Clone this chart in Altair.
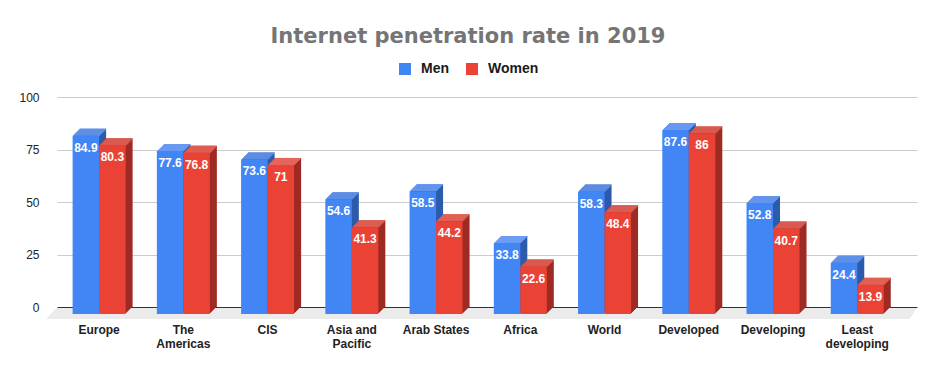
import altair as alt
import pandas as pd

# ---- data ----
regions = ["Europe", "The Americas", "CIS", "Asia and Pacific", "Arab States",
           "Africa", "World", "Developed", "Developing", "Least developing"]
men = [84.9, 77.6, 73.6, 54.6, 58.5, 33.8, 58.3, 87.6, 52.8, 24.4]
women = [80.3, 76.8, 71, 41.3, 44.2, 22.6, 48.4, 86, 40.7, 13.9]
genders = ["Men", "Women"]
y_ticks = [0, 25, 50, 75, 100]
line_breaks = {
    "The Americas": ["The", "Americas"],
    "Asia and Pacific": ["Asia and", "Pacific"],
    "Least developing": ["Least", "developing"],
}

rows = []
for r, m, w in zip(regions, men, women):
    rows.append({"region": r, "gender": "Men", "value": m, "zero": 0})
    rows.append({"region": r, "gender": "Women", "value": w, "zero": 0})
df = pd.DataFrame(rows)

# ---- styling ----
FRONT = {"Men": "#4285F4", "Women": "#EA4335"}
TOP = {"Men": "#6B9DF6", "Women": "#EE6A5F"}
SIDE = {"Men": "#2C5BAB", "Women": "#9E2B24"}
D = 7            # 3D depth in px
BAR_W = 26.5
HALF = {"Men": -13.25, "Women": 13.25}
W, H = 860, 210
FONT = "Liberation Sans"

label_expr = "datum.label"
for k, v in line_breaks.items():
    arr = "[" + ",".join("'" + s + "'" for s in v) + "]"
    label_expr = f"datum.label === '{k}' ? {arr} : ({label_expr})"

x_enc = alt.X(
    "region:N", sort=regions,
    scale=alt.Scale(paddingInner=0, paddingOuter=0.1045, align=0),
    axis=alt.Axis(title=None, labelAngle=0, ticks=False, tickSize=0, domain=False,
                  grid=False, labelPadding=17, labelFont=FONT, labelFontSize=12,
                  labelFontWeight="bold", labelColor="#222222", labelLineHeight=14,
                  labelExpr=label_expr, labelLimit=200),
)
y_enc = alt.Y(
    "value:Q",
    scale=alt.Scale(domain=[0, 100], nice=False, zero=True),
    axis=alt.Axis(values=y_ticks, title=None, ticks=False, tickSize=0, domain=False,
                  labelPadding=18, labelFont=FONT, labelFontSize=12, labelColor="#222222",
                  grid=True, gridWidth=1,
                  gridColor={"condition": {"test": "datum.value === 0", "value": "#333333"},
                             "value": "#cccccc"}),
)
color_enc = alt.Color(
    "gender:N",
    scale=alt.Scale(domain=genders, range=[FRONT[g] for g in genders]),
    legend=alt.Legend(title=None, orient="none", legendX=341, legendY=-35,
                      direction="horizontal", symbolType="square", symbolSize=144,
                      symbolStrokeWidth=0, labelFont=FONT, labelFontSize=14,
                      labelFontWeight="bold", labelColor="#1a1a1a", labelOffset=9,
                      columnPadding=16, padding=0),
)

layers = []

# floor (decorative slanted plane under the bars)
floor_src = pd.DataFrame({"k": [0]})
for j in range(1, 12):
    layers.append(
        alt.Chart(floor_src).mark_rule(color="#ebebeb", strokeWidth=1).encode(
            x=alt.value(-j * 0.95), x2=alt.value(W - j * 0.62), y=alt.value(H + j + 0.5)
        )
    )

base = alt.Chart(df).transform_calculate(label="'' + datum.value")
for g in genders:
    gb = base.transform_filter(f"datum.gender === '{g}'")
    for k in range(D, 0, -1):
        layers.append(
            gb.mark_bar(color=SIDE[g], width=BAR_W, xOffset=HALF[g] + k,
                        yOffset=D - k, y2Offset=D - k).encode(x=x_enc, y=y_enc, y2="zero")
        )
    for k in range(1, D + 1):
        layers.append(
            gb.mark_bar(color=TOP[g], width=BAR_W, xOffset=HALF[g] + k,
                        yOffset=D - k, y2Offset=D - k + 1).encode(x=x_enc, y=y_enc, y2="value")
        )
    layers.append(
        gb.mark_bar(width=BAR_W, xOffset=HALF[g], yOffset=D, y2Offset=D).encode(
            x=x_enc, y=y_enc, y2="zero", color=color_enc)
    )
    layers.append(
        gb.mark_text(font=FONT, fontSize=12, fontWeight="bold", color="white",
                     baseline="middle", dx=HALF[g], dy=D + 12).encode(
            x=x_enc, y=y_enc, text="label:N")
    )

chart = alt.layer(*layers).properties(
    width=W, height=H,
    title=alt.TitleParams(text="Internet penetration rate in 2019", font="DejaVu Sans",
                          fontSize=21, fontWeight="bold", color="#757575",
                          anchor="middle", dx=-19, offset=15),
    autosize=alt.AutoSizeParams(type="none"),
    padding={"left": 49, "top": 89, "right": 10, "bottom": 50},
).configure_view(stroke=None)

chart.save("out.html", embed_options={"renderer": "svg", "actions": False})
